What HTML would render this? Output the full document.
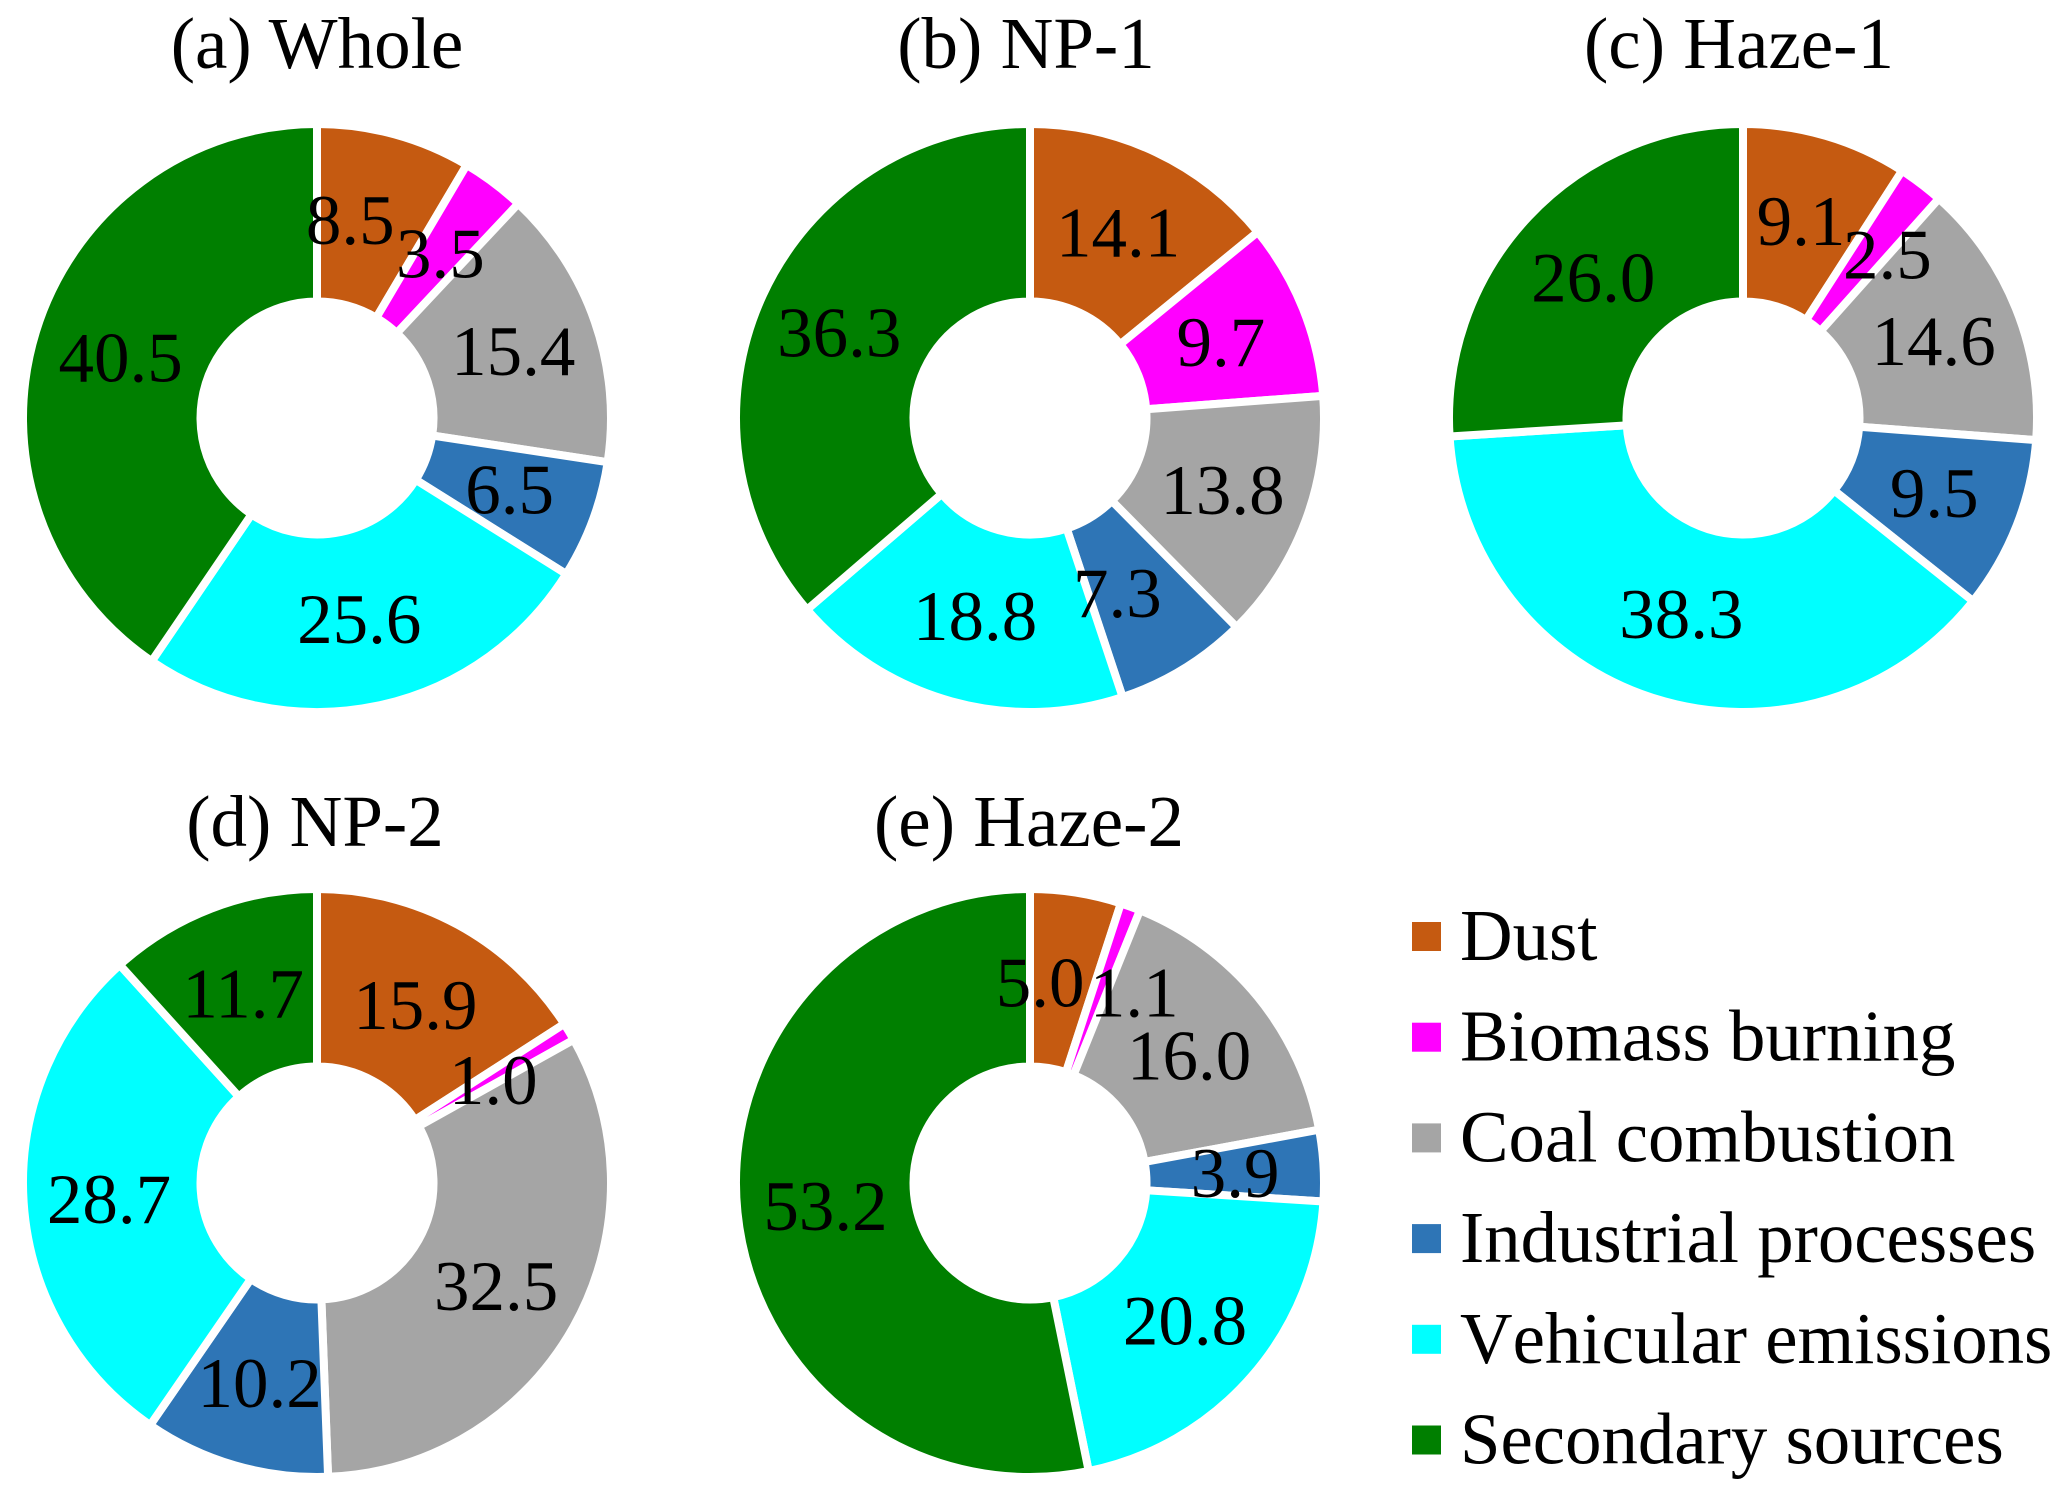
<!DOCTYPE html>
<html lang="en">
<head>
<meta charset="utf-8">
<title>Source contributions donut charts</title>
<style>
html,body{margin:0;padding:0;background:#fff;width:2067px;height:1500px;overflow:hidden}
svg{display:block}
text{font-family:"Liberation Serif",serif;fill:#000}
</style>
</head>
<body>
<svg id="chart" xmlns="http://www.w3.org/2000/svg" width="2067" height="1500" viewBox="0 0 2067 1500"></svg>
<script>
const categories = ["Dust", "Biomass burning", "Coal combustion", "Industrial processes", "Vehicular emissions", "Secondary sources"];
const panelTitles = ["(a) Whole", "(b) NP-1", "(c) Haze-1", "(d) NP-2", "(e) Haze-2"];
const whole = [8.5, 3.5, 15.4, 6.5, 25.6, 40.5];
const np1 = [14.1, 9.7, 13.8, 7.3, 18.8, 36.3];
const haze1 = [9.1, 2.5, 14.6, 9.5, 38.3, 26.0];
const np2 = [15.9, 1.0, 32.5, 10.2, 28.7, 11.7];
const haze2 = [5.0, 1.1, 16.0, 3.9, 20.8, 53.2];
const panelValues = [whole, np1, haze1, np2, haze2];

const colors = ["#C55A11", "#FF00FF", "#A5A5A5", "#2E75B6", "#00FFFF", "#007F00"];
const layout = [
  {cx: 317, cy: 418, tx: 317, ty: 68, drop: 24},
  {cx: 1030, cy: 418, tx: 1026, ty: 68, drop: 24},
  {cx: 1743, cy: 418, tx: 1739, ty: 68, drop: 24},
  {cx: 317, cy: 1183, tx: 315, ty: 846, drop: 26.5},
  {cx: 1030, cy: 1183, tx: 1029, ty: 846, drop: 26.5}
];
const OUTER = 294, INNER = 116.5, LABEL_R = 205.5;
// hand-placed shifts for labels moved off the ring midline ("panel:category": dx)
const labelShift = {"0:0": -21, "0:2": 2, "1:3": -20, "1:5": -4, "2:1": 20, "3:4": -3, "4:0": -22, "4:1": 34};

const NS = "http://www.w3.org/2000/svg";
const svg = document.getElementById("chart");

function angleOf(cum, total) { return cum / total * 2 * Math.PI; }
function polar(cx, cy, r, a) { return [cx + r * Math.sin(a), cy - r * Math.cos(a)]; }
function sectorPath(cx, cy, a0, a1) {
  const large = a1 - a0 > Math.PI ? 1 : 0;
  const p0 = polar(cx, cy, OUTER, a0), p1 = polar(cx, cy, OUTER, a1);
  const p2 = polar(cx, cy, INNER, a1), p3 = polar(cx, cy, INNER, a0);
  return "M" + p0[0] + " " + p0[1] +
    "A" + OUTER + " " + OUTER + " 0 " + large + " 1 " + p1[0] + " " + p1[1] +
    "L" + p2[0] + " " + p2[1] +
    "A" + INNER + " " + INNER + " 0 " + large + " 0 " + p3[0] + " " + p3[1] + "Z";
}
function slug(s) { return s.toLowerCase().replace(/[^a-z0-9]+/g, "-").replace(/^-|-$/g, ""); }

panelValues.forEach(function (values, p) {
  const pos = layout[p];
  const total = values.reduce(function (a, b) { return a + b; }, 0);
  const g = document.createElementNS(NS, "g");
  
  
  svg.appendChild(g);

  const title = document.createElementNS(NS, "text");
  title.setAttribute("x", pos.tx);
  title.setAttribute("y", pos.ty);
  title.setAttribute("text-anchor", "middle");
  title.setAttribute("font-size", "73");
  title.textContent = panelTitles[p];
  
  
  g.appendChild(title);

  let cum = 0;
  const labels = [];
  values.forEach(function (v, i) {
    const a0 = angleOf(cum, total), a1 = angleOf(cum + v, total);
    cum += v;
    const path = document.createElementNS(NS, "path");
    path.setAttribute("d", sectorPath(pos.cx, pos.cy, a0, a1));
    path.setAttribute("fill", colors[i]);
    path.setAttribute("stroke", "#fff");
    path.setAttribute("stroke-width", "8");
    path.setAttribute("stroke-linejoin", "miter");
    
    
    g.appendChild(path);
    const c = polar(pos.cx, pos.cy, LABEL_R, (a0 + a1) / 2);
    labels.push({x: c[0] + (labelShift[p + ":" + i] || 0), y: c[1] + pos.drop, text: v.toFixed(1), name: slug(categories[i])});
  });
  labels.forEach(function (l) {
    const t = document.createElementNS(NS, "text");
    t.setAttribute("x", l.x);
    t.setAttribute("y", l.y);
    t.setAttribute("text-anchor", "middle");
    t.setAttribute("font-size", "71");
    t.textContent = l.text;
    
    
    g.appendChild(t);
  });
});

const legend = document.createElementNS(NS, "g");


svg.appendChild(legend);
categories.forEach(function (name, i) {
  const y = 936 + i * 100.7;
  const entry = document.createElementNS(NS, "g");
  
  
  legend.appendChild(entry);
  const sw = document.createElementNS(NS, "rect");
  sw.setAttribute("x", 1412);
  sw.setAttribute("y", y - 14);
  sw.setAttribute("width", 29);
  sw.setAttribute("height", 29);
  sw.setAttribute("fill", colors[i]);
  
  
  entry.appendChild(sw);
  const t = document.createElementNS(NS, "text");
  t.setAttribute("x", 1460);
  t.setAttribute("y", y + 24);
  t.setAttribute("font-size", "72.8");
  t.setAttribute("style", "font-kerning:none");
  t.textContent = name;
  
  
  entry.appendChild(t);
});
</script>
</body>
</html>
